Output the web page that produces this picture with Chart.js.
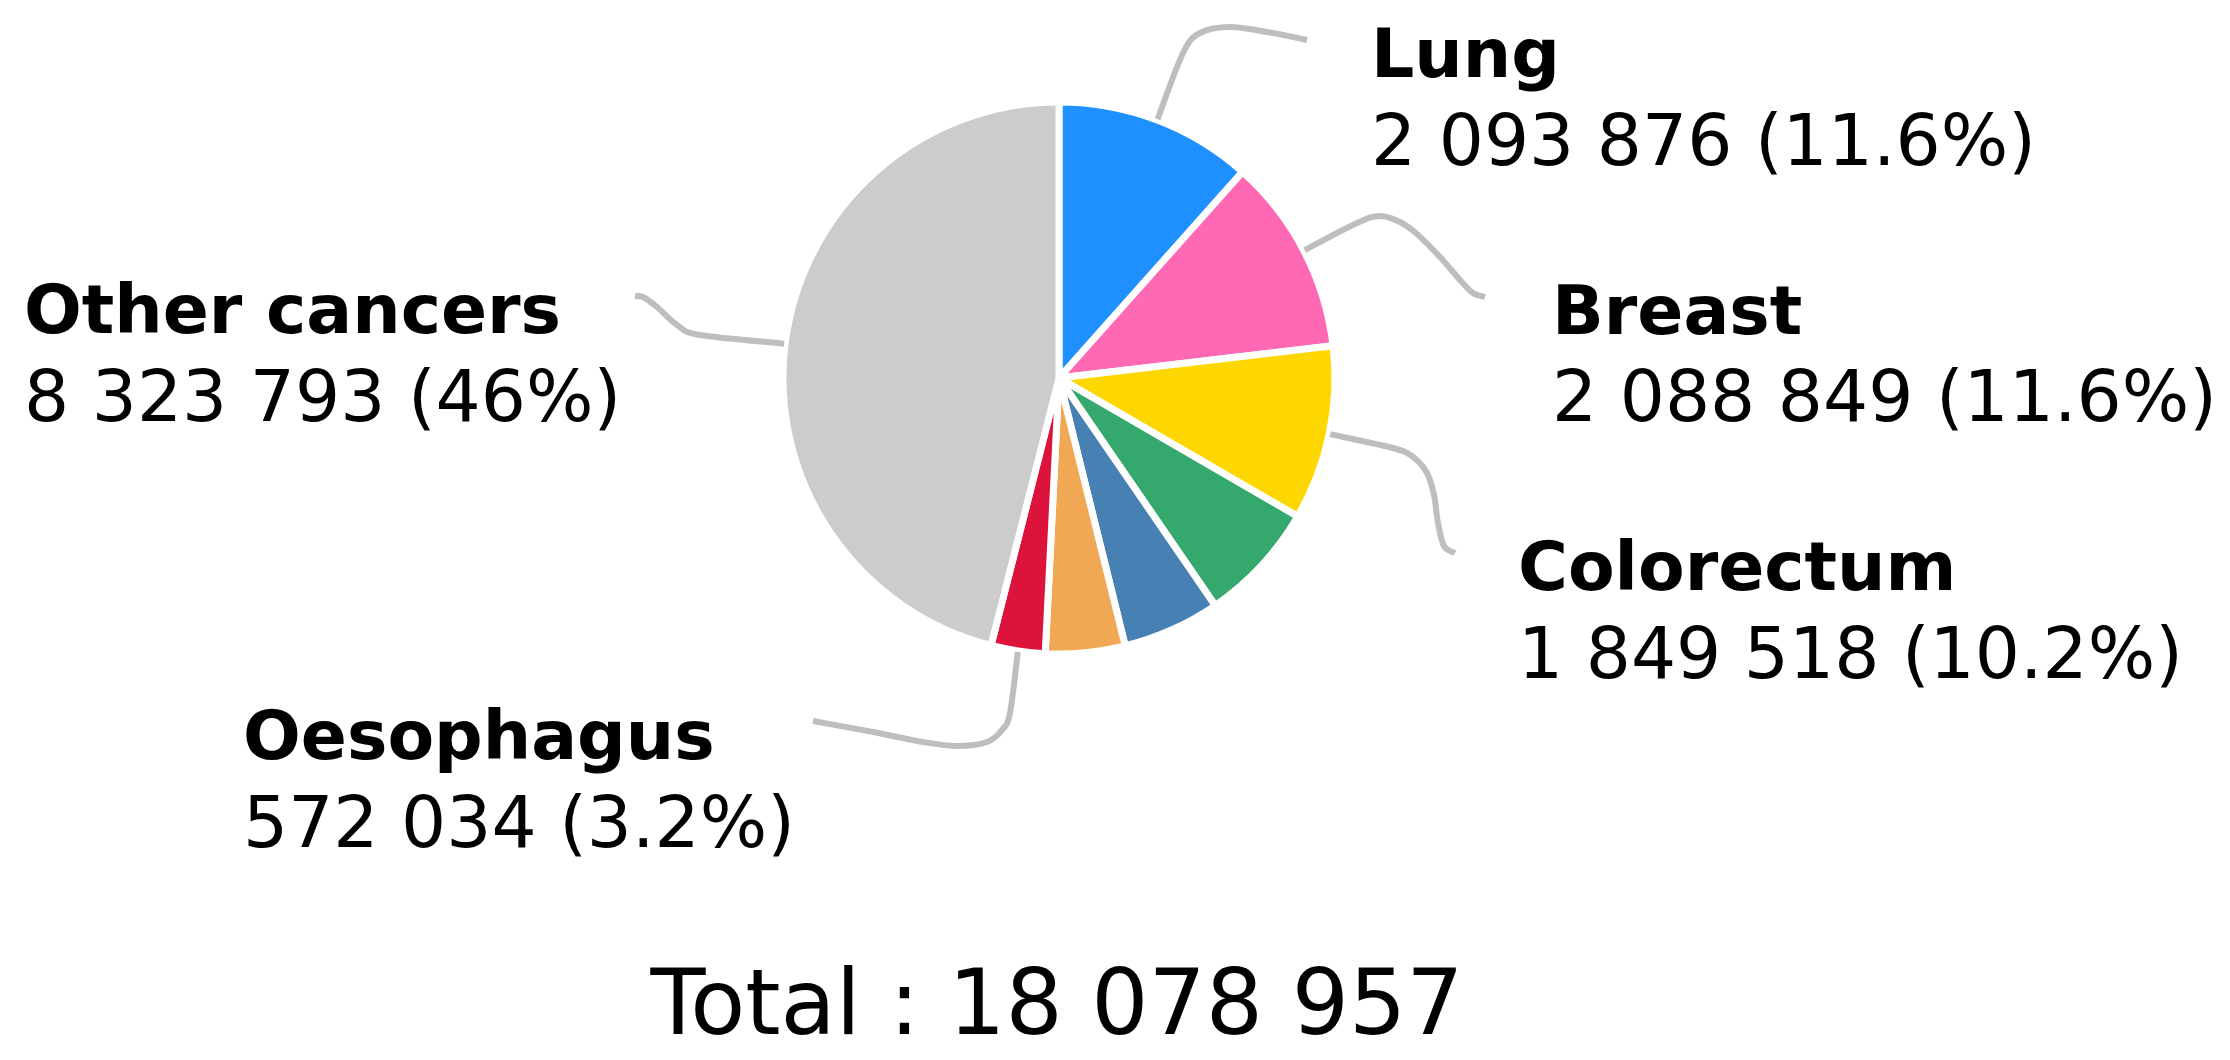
<!DOCTYPE html>
<html>
<head>
<meta charset="utf-8">
<script src="https://cdn.jsdelivr.net/npm/chart.js@4.4.0/dist/chart.umd.min.js"></script>
<style>
  html, body { margin: 0; padding: 0; background: #ffffff; }
  #wrap { width: 2230px; height: 1060px; position: relative; }
  canvas { display: block; }
</style>
</head>
<body>
<div id="wrap"><canvas id="c" width="2230" height="1060" style="width:2230px;height:1060px"></canvas></div>
<script>
// ---- data ----
const categories = ['Lung', 'Breast', 'Colorectum', 'Prostate', 'Stomach', 'Liver', 'Oesophagus', 'Other cancers'];
const cases = [2093876, 2088849, 1849518, 1276106, 1033701, 841080, 572034, 8323793];
const labelledCategories = ['Lung', 'Breast', 'Colorectum', 'Oesophagus', 'Other cancers'];
const totalCaption = 'Total';

// ---- styles ----
const sliceColors = ['#1e90ff', '#ff69b4', '#ffd700', '#35a86d', '#4780b3', '#f0a855', '#dc143c', '#cccccc'];
const connectorColor = '#bebebe';
const fontFamily = '"DejaVu Sans", Verdana, sans-serif';

// ---- label layout (pixel positions of the annotation text and connector route) ----
const labelLayout = {
  'Lung':          { x: 1371, y: 77,  lineGap: 88,
                     route: [[1183, 53], [1200, 33], [1230, 27], [1273, 33], [1307, 40]] },
  'Breast':        { x: 1552, y: 334, lineGap: 87,
                     route: [[1357, 223], [1380, 216], [1400, 222], [1417, 234], [1440, 257], [1460, 280], [1473, 293], [1485, 297]] },
  'Colorectum':    { x: 1518, y: 590, lineGap: 88,
                     route: [[1393, 448], [1413, 457], [1427, 473], [1434, 495], [1438, 523], [1444, 546], [1455, 553]] },
  'Oesophagus':    { x: 243,  y: 759, lineGap: 88,
                     route: [[1010, 713], [1002, 730], [987, 742], [957, 746], [923, 742], [873, 732], [813, 721]] },
  'Other cancers': { x: 24,   y: 333, lineGap: 88,
                     route: [[700, 335], [677, 325], [657, 307], [643, 297], [635, 296]] }
};

const total = cases.reduce((a, b) => a + b, 0);
function fmtNum(n) { return String(n).replace(/\B(?=(\d{3})+(?!\d))/g, ' '); }
function fmtPct(v) {
  let s = (v / total * 100).toFixed(1);
  if (s.endsWith('.0')) s = s.slice(0, -2);
  return s + '%';
}

function splinePath(ctx, pts) {
  ctx.moveTo(pts[0][0], pts[0][1]);
  for (let i = 0; i < pts.length - 1; i++) {
    const p0 = pts[Math.max(i - 1, 0)], p1 = pts[i], p2 = pts[i + 1], p3 = pts[Math.min(i + 2, pts.length - 1)];
    const c1x = p1[0] + (p2[0] - p0[0]) / 6, c1y = p1[1] + (p2[1] - p0[1]) / 6;
    const c2x = p2[0] - (p3[0] - p1[0]) / 6, c2y = p2[1] - (p3[1] - p1[1]) / 6;
    ctx.bezierCurveTo(c1x, c1y, c2x, c2y, p2[0], p2[1]);
  }
}

const annotations = {
  id: 'annotations',
  afterDatasetsDraw(chart) {
    const ctx = chart.ctx;
    const meta = chart.getDatasetMeta(0);
    ctx.save();
    // connectors
    labelledCategories.forEach(name => {
      const i = categories.indexOf(name);
      const arc = meta.data[i];
      const p = arc.getProps(['x', 'y', 'startAngle', 'endAngle', 'outerRadius'], true);
      const mid = (p.startAngle + p.endAngle) / 2;
      const sx = p.x + Math.cos(mid) * (p.outerRadius + 1);
      const sy = p.y + Math.sin(mid) * (p.outerRadius + 1);
      const L = labelLayout[name];
      const pts = [[sx, sy]].concat(L.route);
      ctx.beginPath();
      splinePath(ctx, pts);
      ctx.strokeStyle = connectorColor;
      ctx.lineWidth = 6;
      ctx.lineJoin = 'round';
      ctx.lineCap = 'butt';
      ctx.stroke();
    });
    // texts
    ctx.fillStyle = '#000000';
    ctx.textAlign = 'left';
    ctx.textBaseline = 'alphabetic';
    labelledCategories.forEach(name => {
      const i = categories.indexOf(name);
      const L = labelLayout[name];
      ctx.font = 'bold 68px ' + fontFamily;
      ctx.fillText(name, L.x, L.y);
      ctx.font = '71px ' + fontFamily;
      ctx.fillText(fmtNum(cases[i]) + ' (' + fmtPct(cases[i]) + ')', L.x, L.y + L.lineGap);
    });
    // total
    ctx.font = '90px ' + fontFamily;
    ctx.textAlign = 'center';
    ctx.fillText(totalCaption + ' : ' + fmtNum(total), 1057, 1034);
    ctx.restore();
  }
};

new Chart(document.getElementById('c'), {
  type: 'pie',
  data: {
    labels: categories,
    datasets: [{
      data: cases,
      backgroundColor: sliceColors,
      borderColor: '#ffffff',
      borderWidth: 7
    }]
  },
  options: {
    responsive: false,
    animation: false,
    devicePixelRatio: 1,
    radius: 276,
    layout: { padding: { left: 0, right: 112, top: 0, bottom: 304 } },
    plugins: {
      legend: { display: false },
      tooltip: { enabled: false }
    }
  },
  plugins: [annotations]
});
</script>
</body>
</html>
